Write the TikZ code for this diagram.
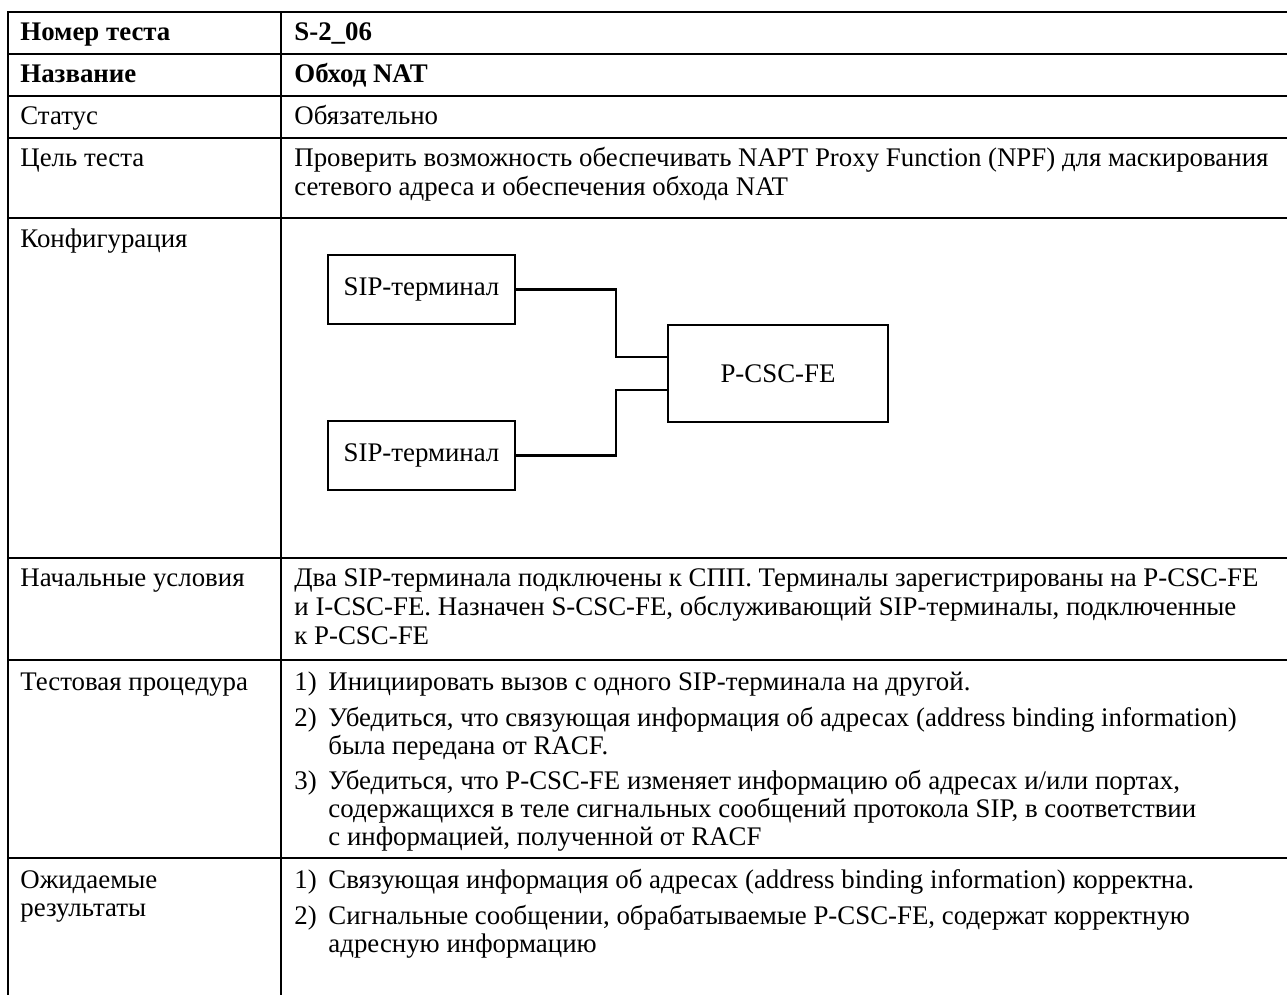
\documentclass[tikz,border=0pt]{standalone}
\usepackage{fontspec}
\setmainfont{Liberation Serif}
\usetikzlibrary{positioning,calc}

\begin{document}
\begin{tikzpicture}[x=0.484pt,y=-0.484pt,line join=miter,
                    rule/.style={line width=1pt},
                    cell/.style={anchor=base west,inner sep=0pt,font=\fontsize{13}{15}\selectfont},
                    head/.style={cell,font=\fontsize{13}{15}\selectfont\bfseries},
                    unit/.style={draw,line width=1pt,inner sep=0pt,font=\fontsize{13}{15}\selectfont},
                    link/.style={line width=1pt}]
\useasboundingbox (0,0) rectangle (1287,995);

% table frame (open at the right and at the bottom)
\draw[rule] (8,995) -- (8,12) -- (1287,12);
\draw[rule] (281,12) -- (281,995);
\foreach \y in {54,96,138,218,558,660,858}
  \draw[rule] (8,\y) -- (1287,\y);

% left column
\node[head] (numlbl)  at (20,41)  {Номер теста};
\node[head] (namelbl) at (20,83)  {Название};
\node[cell] (statlbl) at (20,125) {Статус};
\node[cell] (goallbl) at (20,167) {Цель теста};
\node[cell] (conflbl) at (20,248) {Конфигурация};
\node[cell] (initlbl) at (20,586) {Начальные условия};
\node[cell] (proclbl) at (20,690) {Тестовая процедура};
\node[cell] (reslbl)  at (20,888) {Ожидаемые};
\node[cell] (reslblb) at (20,916) {результаты};

% right column
\node[head] (numval)  at (294,41)  {S-2\_06};
\node[head] (nameval) at (294,83)  {Обход NAT};
\node[cell] (statval) at (294,125) {Обязательно};
\node[cell] (goala)   at (294,167) {Проверить возможность обеспечивать NAPT Proxy Function (NPF) для маскирования};
\node[cell] (goalb)   at (294,196) {сетевого адреса и обеспечения обхода NAT};
\node[cell] (inita)   at (294,586) {Два SIP-терминала подключены к СПП. Терминалы зарегистрированы на P-CSC-FE};
\node[cell] (initb)   at (294,615) {и I-CSC-FE. Назначен S-CSC-FE, обслуживающий SIP-терминалы, подключенные};
\node[cell] (initc)   at (294,644) {к P-CSC-FE};

% test procedure
\node[cell] (proc1n) at (294,690) {1)};
\node[cell] (proc1)  at (328,690) {Инициировать вызов с одного SIP-терминала на другой.};
\node[cell] (proc2n) at (294,726) {2)};
\node[cell] (proc2)  at (328,726) {Убедиться, что связующая информация об адресах (address binding information)};
\node[cell] (proc2b) at (328,754) {была передана от RACF.};
\node[cell] (proc3n) at (294,789) {3)};
\node[cell] (proc3)  at (328,789) {Убедиться, что P-CSC-FE изменяет информацию об адресах и/или портах,};
\node[cell] (proc3b) at (328,817) {содержащихся в теле сигнальных сообщений протокола SIP, в соответствии};
\node[cell] (proc3c) at (328,845) {с информацией, полученной от RACF};

% expected results
\node[cell] (res1n) at (294,888) {1)};
\node[cell] (res1)  at (328,888) {Связующая информация об адресах (address binding information) корректна.};
\node[cell] (res2n) at (294,924) {2)};
\node[cell] (res2)  at (328,924) {Сигнальные сообщении, обрабатываемые P-CSC-FE, содержат корректную};
\node[cell] (res2b) at (328,952) {адресную информацию};

% configuration
\node[unit,minimum width=90.5pt,minimum height=33.4pt] (sip1) at (421.5,289.5) {SIP-терминал};
\node[unit,minimum width=90.5pt,minimum height=33.4pt] (sip2) at (421.5,455.5) {SIP-терминал};
\node[unit,minimum width=106.5pt,minimum height=47pt] (pcsc) at (778,373.5) {P-CSC-FE};

\draw[link] (sip1.east) -- ++(100,0) |- ([yshift=8pt]pcsc.west);
\draw[link] (sip2.east) -- ++(100,0) |- ([yshift=-8pt]pcsc.west);
\end{tikzpicture}
\end{document}
